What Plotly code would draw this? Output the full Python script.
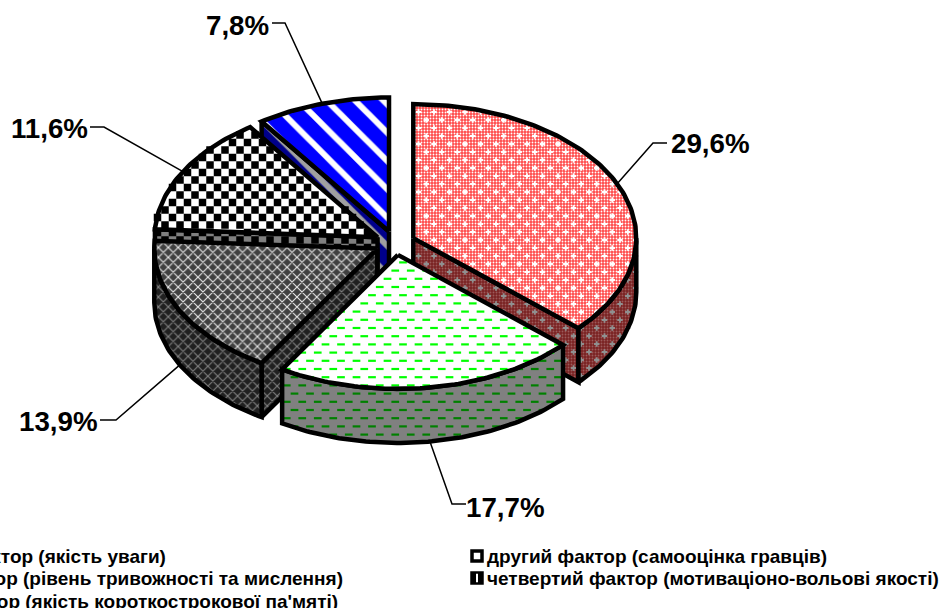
import numpy as np
import plotly.graph_objects as go

# ---- data ----
categories = ["перший фактор (якість уваги)", "другий фактор (самооцінка гравців)",
              "третій фактор (рівень тривожності та мислення)",
              "четвертий фактор (мотиваціоно-вольові якості)",
              "п'ятий фактор (якість короткострокової па'мяті)"]
slice_names = ["red", "green", "grey", "check", "blue"]
values = [29.6, 17.7, 13.9, 11.6, 7.8]

# ---- layout of the pie (pixels, the axes map 1:1 on the page) ----
W, H = 946, 608
CX, CY, RX, RY, DEPTH, EXPLODE = 395, 243, 223, 134, 54, 20
OUT = 4.5
label_xy = [(710, 143), (505, 507), (58, 421), (49, 128), (237, 25)]
elbow_xy = [(653, 143), (452, 504), (116, 420), (104, 127), (285, 23)]
tail_xy = [(667, 143), (466, 504), (100, 420), (90, 127), (272, 23)]

total = sum(values)
spans = [v / total * 360 for v in values]
ends = np.cumsum(spans)
starts = ends - np.array(spans)
mids = (starts + ends) / 2


def pt(c, t, r=1.0):
    a = np.radians(t)
    return c[0] + RX * r * np.sin(a), c[1] - RY * r * np.cos(a)


centers = []
for m in mids:
    a = np.radians(m)
    centers.append((CX + EXPLODE * np.sin(a), CY - EXPLODE * RY / RX * np.cos(a)))


def arc(c, t0, t1):
    ts = np.linspace(t0, t1, max(2, int(abs(t1 - t0)) + 1))
    return pt(c, ts)


def lattice(xs, ys, dx, dy, stagger):
    """Hatch points inside a polygon."""
    xs, ys = np.asarray(xs), np.asarray(ys)
    gx, gy = [], []
    rows = np.arange(np.floor(ys.min() / dy), np.ceil(ys.max() / dy) + 1)
    for i in rows:
        y = i * dy
        x0 = (dx / 2 if int(i) % 2 and stagger else 0)
        for x in np.arange(np.floor(xs.min() / dx) * dx + x0, xs.max() + dx, dx):
            cross = ((ys > y) != (np.roll(ys, 1) > y)) & (
                x < (np.roll(xs, 1) - xs) * (y - ys) / (np.roll(ys, 1) - ys + 1e-9) + xs)
            if cross.sum() % 2:
                gx.append(x); gy.append(y)
    return gx, gy


fig = go.Figure()


def face(xs, ys, pattern, marks=None, name=""):
    xs, ys = list(xs), list(ys)
    xs.append(xs[0]); ys.append(ys[0])
    fig.add_trace(go.Scatter(x=xs, y=ys, mode="lines", fill="toself", line=dict(width=0, color="black"),
                             fillpattern=pattern, fillcolor=pattern.get("bgcolor"),
                             hoverinfo="skip", showlegend=False, name=name))
    if marks:
        gx, gy = lattice(xs, ys, marks["dx"], marks["dy"], marks["stagger"])
        fig.add_trace(go.Scatter(x=gx, y=gy, mode="markers", marker=marks["marker"],
                                 hoverinfo="skip", showlegend=False))
    fig.add_trace(go.Scatter(x=xs, y=ys, mode="lines", line=dict(width=OUT, color="black"),
                             hoverinfo="skip", showlegend=False, name=name))


def speck(bg, fg, size=3, sol=0.4, shape="."):
    return dict(shape=shape, bgcolor=bg, fgcolor=fg, fgopacity=1, size=size, solidity=sol)


cross = lambda col, s: dict(dx=15.5, dy=8, stagger=True, marker=dict(symbol="cross", size=s, color=col, line=dict(width=0)))
dash = lambda col: dict(dx=15.5, dy=8.2, stagger=True,
                        marker=dict(symbol="line-ew", size=5.5, line=dict(width=2.2, color=col)))
checks = lambda col, s: dict(dx=15, dy=7.5, stagger=True, marker=dict(symbol="square", size=s, color=col, line=dict(width=0)))

style = {
    "red": dict(top=speck("#ff4a4a", "#ffffff", 3, 0.3), tm=cross("#ffffff", 4.5),
                wall=speck("#7a2222", "#9c5a5a", 3, 0.3), wm=cross("#909090", 4.5)),
    "green": dict(top=speck("#ffffff", "#ffffff"), tm=dash("#00ff00"),
                  wall=speck("#808080", "#808080"), wm=dash("#008000")),
    "grey": dict(top=speck("#404040", "#e8e8e8", 7, 0.3, "x"), tm=None,
                 wall=speck("#202020", "#808080", 7, 0.3, "x"), wm=None),
    "check": dict(top=speck("#ffffff", "#ffffff"), tm=checks("#000000", 7.5),
                  wall=speck("#808080", "#808080"), wm=checks("#000000", 7.5)),
    "blue": dict(top=speck("#0000ff", "#ffffff", 20, 0.3, "\\"), tm=None,
                 wall=speck("#00008b", "#a0a0a0", 20, 0.3, "\\"), wm=None),
}

# back to front
for i in [4, 3, 2, 0, 1]:
    s = style[slice_names[i]]
    c = centers[i]
    c_low = (c[0], c[1] + DEPTH)
    t0, t1 = starts[i], ends[i]
    # radial cut faces that look toward the viewer
    for t in (t0, t1):
        faces_viewer = (t == t1 and 90 < t < 180) or (t == t0 and 180 < t < 360)
        if not faces_viewer:
            continue
        ex, ey = pt(c, t)
        face([c[0], ex, ex, c[0]], [c[1], ey, ey + DEPTH, c[1] + DEPTH], s["wall"], s["wm"], "cut")
    # outer rim
    a0, a1 = max(t0, 90), min(t1, 270)
    if a1 > a0:
        ux, uy = arc(c, a0, a1)
        lx, ly = arc(c_low, a1, a0)
        face(np.r_[ux, lx], np.r_[uy, ly], s["wall"], s["wm"], "rim")
    # top
    ax, ay = arc(c, t0, t1)
    face(np.r_[c[0], ax], np.r_[c[1], ay], s["top"], s["tm"], categories[i])

# leader lines and value labels
annotations = []
for i, v in enumerate(values):
    sx, sy = pt(centers[i], mids[i])
    if 90 < mids[i] < 270:
        sy += DEPTH
    fig.add_trace(go.Scatter(x=[sx, elbow_xy[i][0], tail_xy[i][0]], y=[sy, elbow_xy[i][1], tail_xy[i][1]],
                             mode="lines", line=dict(width=1.5, color="black"),
                             hoverinfo="skip", showlegend=False))
    annotations.append(dict(x=label_xy[i][0], y=label_xy[i][1], xref="x", yref="y", showarrow=False,
                            text="<b>" + f"{v:.1f}".replace(".", ",") + "%</b>",
                            font=dict(family="Liberation Sans", size=27.7, color="black")))

# legend, first column runs off the left page edge as in the source
legend_font = dict(family="Liberation Sans", size=19, color="black")
legend_left = [(-0.1225, 556, 0), (-0.1225, 578, 2), (-0.1225, 601, 4)]
legend_right = [(485, 556, 1), (485, 578, 3)]
for px, py, k in legend_left:
    annotations.append(dict(x=px, y=py, xref="paper", yref="y", xanchor="left", showarrow=False,
                            text="<b>" + categories[k] + "</b>", font=legend_font))
for px, py, k in legend_right:
    annotations.append(dict(x=px, y=py, xref="x", yref="y", xanchor="left", showarrow=False,
                            text="<b>" + categories[k] + "</b>", font=legend_font))
fig.add_trace(go.Scatter(x=[477, 477], y=[556, 578], mode="markers",
                         marker=dict(symbol="square", size=10, color=["white", "black"],
                                     line=dict(width=3.5, color="black")),
                         hoverinfo="skip", showlegend=False))
fig.add_trace(go.Scatter(x=[477], y=[578], mode="markers",
                         marker=dict(symbol="line-ns", size=6, line=dict(width=2, color="white")),
                         hoverinfo="skip", showlegend=False))

fig.update_layout(width=W, height=H, margin=dict(l=0, r=0, t=0, b=0), showlegend=False,
                  plot_bgcolor="white", paper_bgcolor="white", annotations=annotations,
                  xaxis=dict(range=[0, W], visible=False, fixedrange=True),
                  yaxis=dict(range=[H, 0], visible=False, fixedrange=True))
fig.write_html("out.html", post_script="document.body.style.margin='0';",
               config=dict(displayModeBar=False))
